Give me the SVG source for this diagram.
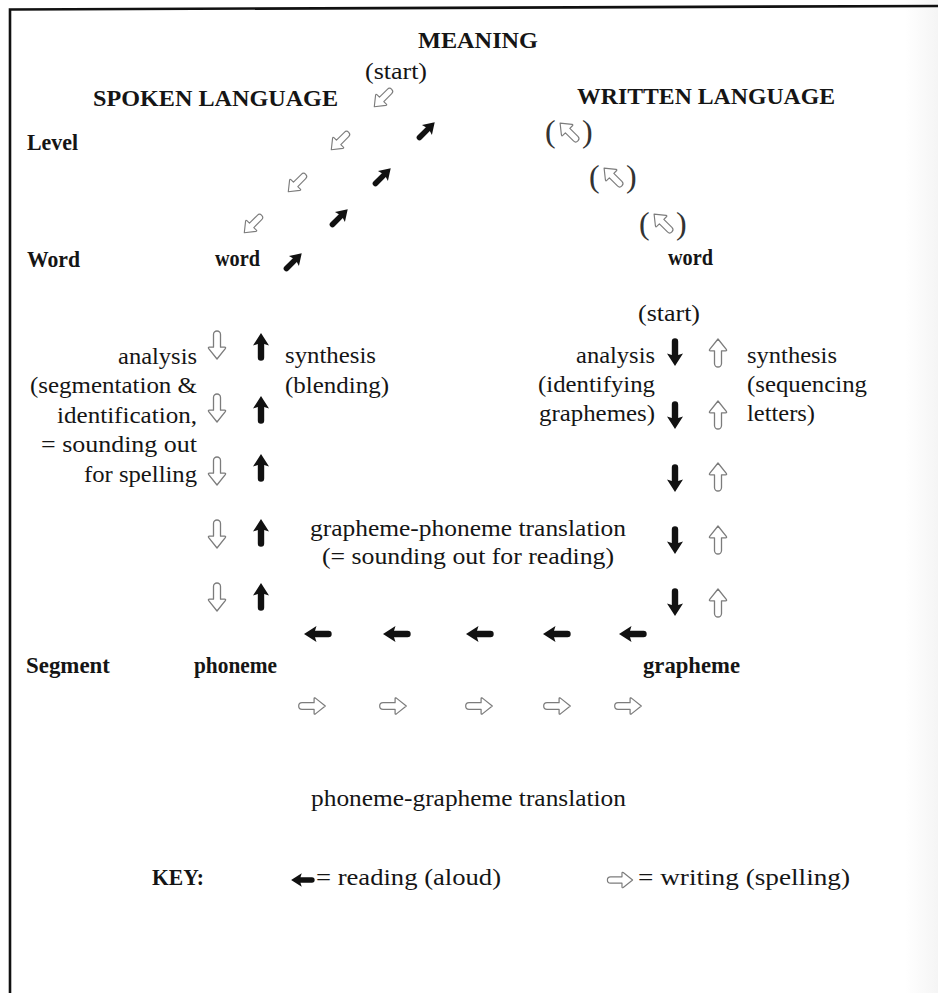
<svg xmlns="http://www.w3.org/2000/svg" xmlns:xlink="http://www.w3.org/1999/xlink" width="938" height="993" viewBox="0 0 938 993">
  <style>
    text { font-family: "Liberation Serif", "Times New Roman", serif; fill: #151515; }
    .b { font-size: 23.5px; font-weight: bold; }
    .r { font-size: 24px; }
    .e { text-anchor: end; }
    .paren { font-size: 32px; fill: #333; }
    .frame { fill: none; stroke: #111; stroke-width: 2.6; }
  </style>
  <defs>
    <!-- solid arrow (reading), pointing up, centred on origin -->
    <path id="blk" fill="#111" d="M0,-14 L8,-1.5 L3.2,-3 L3.2,10.5 A3.2,3.2 0 0 1 -3.2,10.5 L-3.2,-3 L-8,-1.5 Z"/>
    <!-- hollow arrow (writing), pointing up, centred on origin -->
    <path id="wht" fill="#fff" stroke="#7c7c7c" stroke-width="1.3" stroke-linejoin="round" d="M0,-14 L8.3,-3.6 Q9.2,-2.2 7.6,-2.2 L3.5,-2.2 L3.5,10.5 A3.5,3.5 0 0 1 -3.5,10.5 L-3.5,-2.2 L-7.6,-2.2 Q-9.2,-2.2 -8.3,-3.6 Z"/>
    <linearGradient id="edge" x1="0" y1="0" x2="1" y2="0">
      <stop offset="0" stop-color="#ddd" stop-opacity="0"/>
      <stop offset="1" stop-color="#ddd" stop-opacity="0.3"/>
    </linearGradient>
  </defs>

  <rect width="938" height="993" fill="#fff"/>
  <rect x="905" y="0" width="33" height="993" fill="url(#edge)"/>

  <!-- page frame: top and left rules -->
  <path class="frame" d="M10,993 L10,9.5 L938,6"/>

  <!-- top: meaning -->
  <g id="meaning">
    <text class="b" x="418" y="48" textLength="120" lengthAdjust="spacingAndGlyphs">MEANING</text>
    <text class="r" x="365" y="79" textLength="62" lengthAdjust="spacingAndGlyphs">(start)</text>
  </g>

  <g id="spoken-language">
    <text class="b" x="93" y="106" textLength="245" lengthAdjust="spacingAndGlyphs">SPOKEN LANGUAGE</text>
  </g>
  <g id="written-language">
    <text class="b" x="577" y="104" textLength="258" lengthAdjust="spacingAndGlyphs">WRITTEN LANGUAGE</text>
  </g>

  <!-- level labels -->
  <g id="level-labels">
    <text class="b" x="27" y="150" textLength="51" lengthAdjust="spacingAndGlyphs">Level</text>
    <text class="b" x="27" y="267" textLength="53" lengthAdjust="spacingAndGlyphs">Word</text>
    <text class="b" x="26" y="673" textLength="84" lengthAdjust="spacingAndGlyphs">Segment</text>
  </g>

  <g id="spoken-word">
    <text class="b" x="215" y="266" textLength="45" lengthAdjust="spacingAndGlyphs">word</text>
  </g>
  <g id="written-word">
    <text class="b" x="668" y="265" textLength="45" lengthAdjust="spacingAndGlyphs">word</text>
  </g>
  <g id="phoneme">
    <text class="b" x="194" y="673" textLength="83" lengthAdjust="spacingAndGlyphs">phoneme</text>
  </g>
  <g id="grapheme">
    <text class="b" x="643" y="673" textLength="97" lengthAdjust="spacingAndGlyphs">grapheme</text>
  </g>

  <!-- spoken side: analysis / synthesis -->
  <g id="spoken-analysis">
    <text class="r e" x="197" y="364" textLength="79" lengthAdjust="spacingAndGlyphs">analysis</text>
    <text class="r e" x="197" y="393" textLength="167" lengthAdjust="spacingAndGlyphs">(segmentation &amp;</text>
    <text class="r e" x="197" y="423" textLength="140" lengthAdjust="spacingAndGlyphs">identification,</text>
    <text class="r e" x="197" y="452" textLength="156" lengthAdjust="spacingAndGlyphs">= sounding out</text>
    <text class="r e" x="197" y="482" textLength="113" lengthAdjust="spacingAndGlyphs">for spelling</text>
  </g>
  <g id="spoken-synthesis">
    <text class="r" x="285" y="363" textLength="91" lengthAdjust="spacingAndGlyphs">synthesis</text>
    <text class="r" x="285" y="393" textLength="104" lengthAdjust="spacingAndGlyphs">(blending)</text>
  </g>

  <!-- written side: analysis / synthesis -->
  <g id="written-analysis">
    <text class="r" x="638" y="321" textLength="62" lengthAdjust="spacingAndGlyphs">(start)</text>
    <text class="r e" x="655" y="363" textLength="79" lengthAdjust="spacingAndGlyphs">analysis</text>
    <text class="r e" x="655" y="392" textLength="117" lengthAdjust="spacingAndGlyphs">(identifying</text>
    <text class="r e" x="655" y="421" textLength="116" lengthAdjust="spacingAndGlyphs">graphemes)</text>
  </g>
  <g id="written-synthesis">
    <text class="r" x="747" y="363" textLength="90" lengthAdjust="spacingAndGlyphs">synthesis</text>
    <text class="r" x="747" y="392" textLength="120" lengthAdjust="spacingAndGlyphs">(sequencing</text>
    <text class="r" x="747" y="421" textLength="68" lengthAdjust="spacingAndGlyphs">letters)</text>
  </g>

  <g id="gp-translation">
    <text class="r" x="310" y="536" textLength="316" lengthAdjust="spacingAndGlyphs">grapheme-phoneme translation</text>
    <text class="r" x="322" y="564" textLength="292" lengthAdjust="spacingAndGlyphs">(= sounding out for reading)</text>
  </g>
  <g id="pg-translation">
    <text class="r" x="311" y="806" textLength="315" lengthAdjust="spacingAndGlyphs">phoneme-grapheme translation</text>
  </g>

  <!-- connectors: arrow chains -->
  <g id="connectors">
    <!-- spoken: meaning down to word (writing) -->
    <use href="#wht" transform="translate(383,98) rotate(-135) scale(0.88)"/>
    <use href="#wht" transform="translate(340,141) rotate(-135) scale(0.88)"/>
    <use href="#wht" transform="translate(297,183) rotate(-135) scale(0.88)"/>
    <use href="#wht" transform="translate(253,224) rotate(-135) scale(0.88)"/>
    <!-- spoken: word up to meaning (reading) -->
    <use href="#blk" transform="translate(426,131) rotate(45) scale(0.88)"/>
    <use href="#blk" transform="translate(382,177) rotate(45) scale(0.88)"/>
    <use href="#blk" transform="translate(339,218) rotate(45) scale(0.88)"/>
    <use href="#blk" transform="translate(293,262) rotate(45) scale(0.88)"/>

    <!-- written: optional route back to meaning -->
    <g id="optional-route">
      <text class="paren" x="545" y="142">(</text>
      <use href="#wht" transform="translate(569,132) rotate(-45) scale(0.9)"/>
      <text class="paren" x="582" y="142">)</text>
      <text class="paren" x="589" y="187">(</text>
      <use href="#wht" transform="translate(613,177) rotate(-45) scale(0.9)"/>
      <text class="paren" x="626" y="187">)</text>
      <text class="paren" x="639" y="234">(</text>
      <use href="#wht" transform="translate(663,223) rotate(-45) scale(0.9)"/>
      <text class="paren" x="676" y="234">)</text>
    </g>

    <!-- spoken column: word ↔ phoneme -->
    <use href="#wht" transform="translate(217,345) rotate(180)"/>
    <use href="#wht" transform="translate(217,408) rotate(180)"/>
    <use href="#wht" transform="translate(217,471) rotate(180)"/>
    <use href="#wht" transform="translate(217,534) rotate(180)"/>
    <use href="#wht" transform="translate(217,597) rotate(180)"/>
    <use href="#blk" transform="translate(261,347)"/>
    <use href="#blk" transform="translate(261,410)"/>
    <use href="#blk" transform="translate(261,468)"/>
    <use href="#blk" transform="translate(261,533)"/>
    <use href="#blk" transform="translate(261,597)"/>

    <!-- written column: word ↔ grapheme -->
    <use href="#blk" transform="translate(675,352) rotate(180)"/>
    <use href="#blk" transform="translate(675,415) rotate(180)"/>
    <use href="#blk" transform="translate(675,478) rotate(180)"/>
    <use href="#blk" transform="translate(675,540) rotate(180)"/>
    <use href="#blk" transform="translate(675,602) rotate(180)"/>
    <use href="#wht" transform="translate(718,353)"/>
    <use href="#wht" transform="translate(718,415)"/>
    <use href="#wht" transform="translate(718,477)"/>
    <use href="#wht" transform="translate(718,540)"/>
    <use href="#wht" transform="translate(718,603)"/>

    <!-- segment row: grapheme → phoneme (reading) -->
    <use href="#blk" transform="translate(318,634) rotate(-90)"/>
    <use href="#blk" transform="translate(397,634) rotate(-90)"/>
    <use href="#blk" transform="translate(480,634) rotate(-90)"/>
    <use href="#blk" transform="translate(557,634) rotate(-90)"/>
    <use href="#blk" transform="translate(633,634) rotate(-90)"/>
    <!-- segment row: phoneme → grapheme (writing) -->
    <use href="#wht" transform="translate(312,706) rotate(90) scale(0.95)"/>
    <use href="#wht" transform="translate(393,706) rotate(90) scale(0.95)"/>
    <use href="#wht" transform="translate(479,706) rotate(90) scale(0.95)"/>
    <use href="#wht" transform="translate(557,706) rotate(90) scale(0.95)"/>
    <use href="#wht" transform="translate(628,706) rotate(90) scale(0.95)"/>
  </g>

  <!-- key -->
  <g id="key">
    <text class="b" x="152" y="885" textLength="52" lengthAdjust="spacingAndGlyphs">KEY:</text>
    <use href="#blk" transform="translate(303,880) rotate(-90) scale(0.85)"/>
    <text class="r" x="316" y="885" textLength="185" lengthAdjust="spacingAndGlyphs">= reading (aloud)</text>
    <use href="#wht" transform="translate(620,880) rotate(90) scale(0.9)"/>
    <text class="r" x="638" y="885" textLength="212" lengthAdjust="spacingAndGlyphs">= writing (spelling)</text>
  </g>
</svg>
